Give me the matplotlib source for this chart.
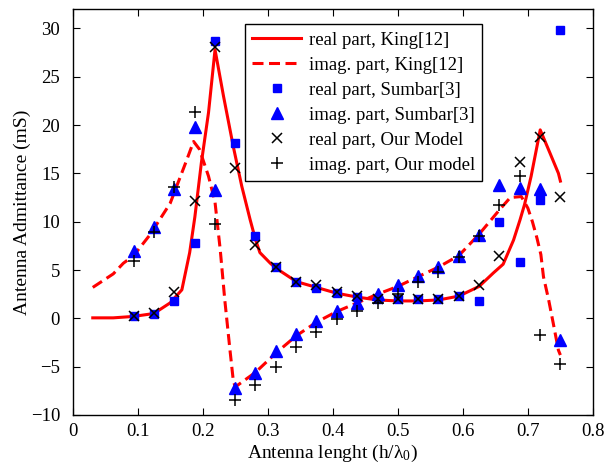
import matplotlib
matplotlib.use("Agg")
import matplotlib.pyplot as plt

plt.rcParams['font.family'] = ['Liberation Serif', 'DejaVu Serif']
plt.rcParams['mathtext.fontset'] = 'custom'
plt.rcParams['mathtext.rm'] = 'Liberation Serif'
plt.rcParams['mathtext.it'] = 'Liberation Serif:italic'

# === King[12] curves ===
king_re_x = [0.031, 0.0625, 0.094, 0.125, 0.15, 0.168, 0.18, 0.188, 0.198, 0.209, 0.219,
             0.232, 0.247, 0.26, 0.273, 0.281, 0.288, 0.304, 0.3125, 0.344, 0.375, 0.406,
             0.4375, 0.469, 0.5, 0.531, 0.5625, 0.594, 0.625, 0.647, 0.662, 0.678, 0.688,
             0.695, 0.705, 0.719, 0.734, 0.747, 0.75]
king_re_y = [0.05, 0.05, 0.2, 0.5, 1.6, 2.95, 6.8, 10.5, 16.1, 21.3, 27.8,
             23.0, 17.8, 13.7, 10.2, 8.2, 6.8, 5.7, 5.2, 3.8, 3.2, 2.6,
             2.2, 1.9, 1.8, 1.8, 1.9, 2.3, 3.3, 4.7, 5.6, 8.1, 10.2,
             11.8, 14.7, 19.5, 17.1, 15.0, 14.2]

king_im_x = [0.031, 0.0625, 0.078, 0.094, 0.119, 0.15, 0.175, 0.186, 0.195, 0.209, 0.219,
             0.227, 0.234, 0.242, 0.247, 0.25, 0.281, 0.3125, 0.344, 0.375, 0.406, 0.4375,
             0.469, 0.5, 0.531, 0.5625, 0.594, 0.625, 0.656, 0.673, 0.69, 0.70, 0.707,
             0.714, 0.72, 0.724, 0.732, 0.739, 0.747, 0.75]
king_im_y = [3.2, 4.6, 5.7, 6.5, 8.65, 11.9, 16.3, 18.3, 17.5, 14.7, 12.0,
             7.1, 1.9, -3.3, -6.4, -7.1, -5.6, -3.6, -1.8, -0.4, 0.7, 1.6,
             2.5, 3.3, 4.3, 5.3, 6.5, 8.7, 11.2, 12.5, 12.6, 11.4, 10.0,
             8.3, 6.6, 4.3, 1.9, -0.5, -3.3, -3.8]

# === Sumbar[3] and our model samples ===
pts_x = [0.094, 0.125, 0.156, 0.1875, 0.219, 0.25, 0.281, 0.3125, 0.344, 0.375, 0.406,
         0.4375, 0.469, 0.5, 0.531, 0.5625, 0.594, 0.625, 0.656, 0.6875, 0.719, 0.75]
sumbar_re = [0.2, 0.5, 1.8, 7.8, 28.7, 18.1, 8.55, 5.35, 3.8, 3.1, 2.65,
             2.25, 2.0, 2.0, 2.0, 2.0, 2.3, 1.8, 10.0, 5.8, 12.2, 29.8]
sumbar_im = [7.0, 9.5, 13.4, 19.8, 13.3, -7.2, -5.7, -3.4, -1.6, -0.3, 0.8,
             1.6, 2.5, 3.4, 4.4, 5.3, 6.4, 8.65, 13.8, 13.5, 13.4, -2.2]
model_re = [0.2, 0.6, 2.7, 12.1, 28.1, 15.6, 7.6, 5.3, 3.8, 3.4, 2.7,
            2.3, 2.0, 2.0, 2.0, 2.0, 2.3, 3.5, 6.5, 16.2, 18.8, 12.6]
model_im = [5.9, 8.9, 13.6, 21.4, 9.8, -8.4, -6.9, -5.0, -3.0, -1.4, -0.1,
            0.8, 1.6, 2.5, 3.8, 4.8, 6.3, 8.5, 11.7, 14.7, -1.7, -4.7]

fig = plt.figure(figsize=(6.05, 4.72), dpi=100)
ax = fig.add_axes([0.120, 0.1208, 0.860, 0.860])

ax.plot(king_re_x, king_re_y, '-', color='red', lw=2.2, label='real part, King[12]')
ax.plot(king_im_x, king_im_y, '--', color='red', lw=2.2, dashes=(3.6, 1.8),
        label='imag. part, King[12]')
ax.plot(pts_x, sumbar_re, 's', color='blue', ms=5.5, ls='none', label='real part, Sumbar[3]')
ax.plot(pts_x, sumbar_im, '^', color='blue', ms=9, ls='none', label='imag. part, Sumbar[3]')
ax.plot(pts_x, model_re, 'x', color='black', ms=7, mew=1.1, ls='none',
        label='real part, Our Model')
ax.plot(pts_x, model_im, '+', color='black', ms=8, mew=1.1, ls='none',
        label='imag. part, Our model')

ax.set_xlim(0, 0.8)
ax.set_ylim(-10, 32)
ax.set_xticks([0, 0.1, 0.2, 0.3, 0.4, 0.5, 0.6, 0.7, 0.8])
ax.set_xticklabels(['0', '0.1', '0.2', '0.3', '0.4', '0.5', '0.6', '0.7', '0.8'])
ax.set_yticks([-10, -5, 0, 5, 10, 15, 20, 25, 30])
ax.tick_params(direction='in', top=True, right=True, labelsize=13.5, length=5, width=0.8)
ax.tick_params(axis='x', pad=6)
ax.tick_params(axis='y', pad=9)
for s in ax.spines.values():
    s.set_linewidth(1.0)

ax.set_xlabel(r'Antenna lenght (h/λ$_0$)', fontsize=14, labelpad=2)
ax.set_ylabel('Antenna Admittance (mS)', fontsize=14, labelpad=0)

leg = ax.legend(loc='upper left', bbox_to_anchor=(0.313, 0.986), fontsize=13.5,
                frameon=True, fancybox=False, edgecolor='black', framealpha=1,
                handlelength=2.6, labelspacing=0.42, borderpad=0.4, handletextpad=0.4)
leg.get_frame().set_linewidth(1.0)

fig.savefig('out.png', dpi=100)
